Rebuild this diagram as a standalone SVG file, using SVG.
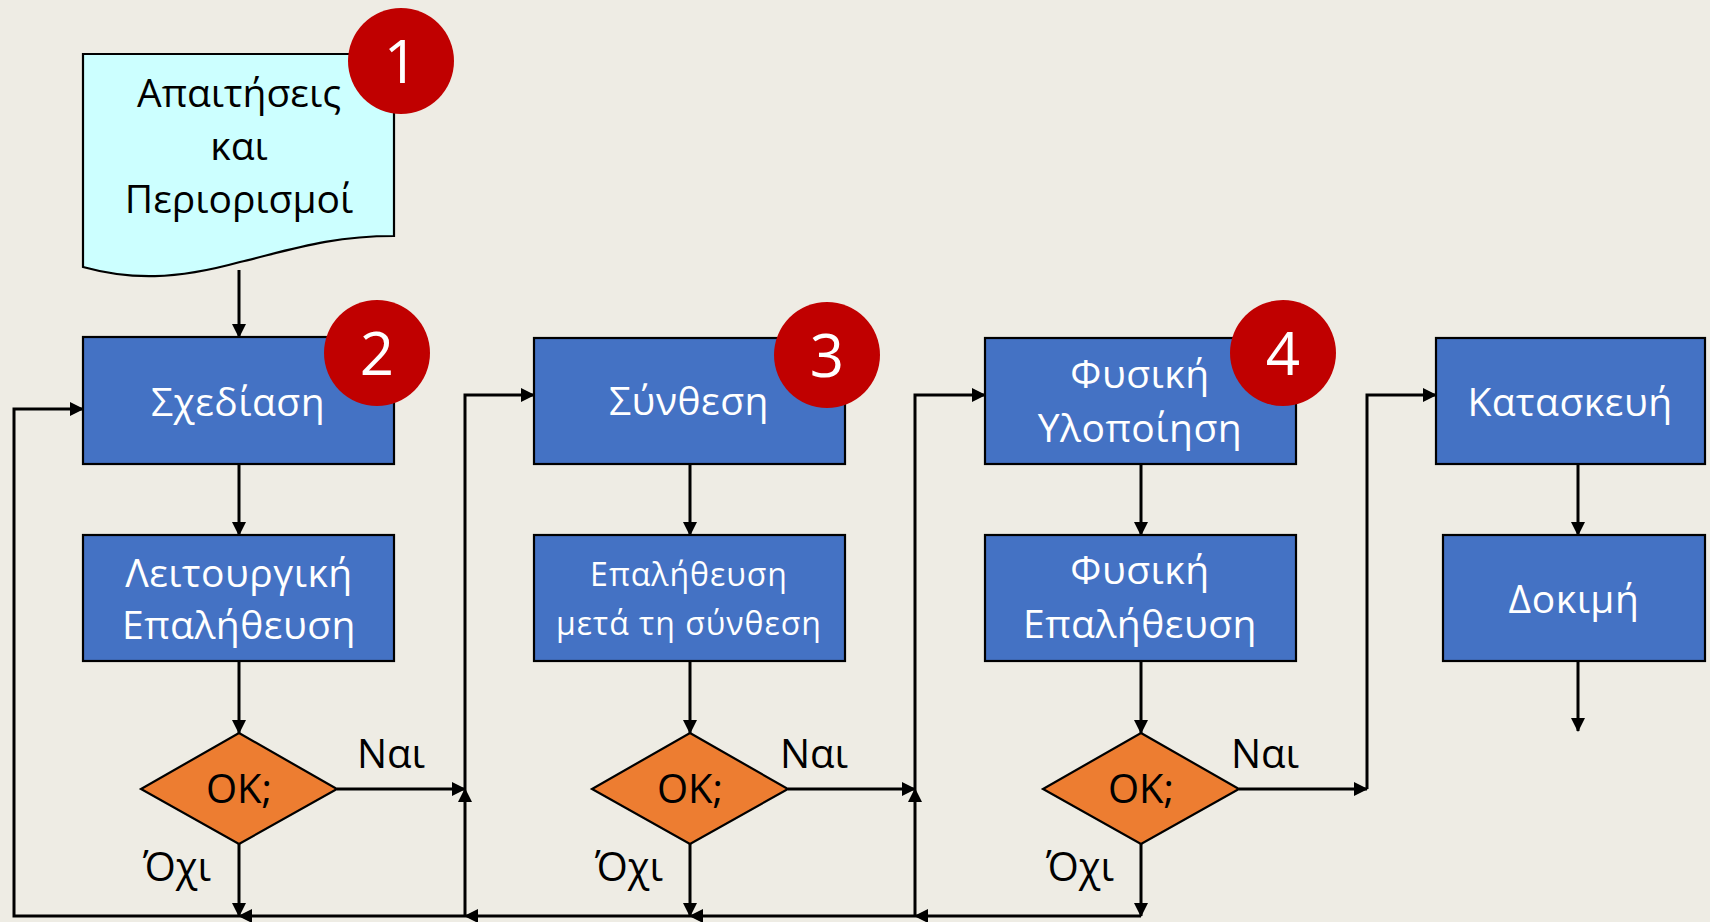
<svg xmlns="http://www.w3.org/2000/svg" width="1710" height="922" viewBox="0 0 1710 922">
<defs>
<style>
.box{fill:#4472C4;stroke:#000;stroke-width:2.2}
.dia{fill:#ED7D31;stroke:#000;stroke-width:2.2}
.doc{fill:#CCFFFF;stroke:#000;stroke-width:2.2}
.badge{fill:#C00000}
.bt{font-family:"Open Sans","Noto Sans",sans-serif;font-size:60px;fill:#fff;text-anchor:middle}
.wt{font-family:"Open Sans","Noto Sans",sans-serif;font-size:39px;letter-spacing:0.5px;fill:#fff;text-anchor:middle}
.st{font-family:"Open Sans","Noto Sans",sans-serif;font-size:32px;letter-spacing:1px;fill:#fff;text-anchor:middle}
.kt{font-family:"Open Sans","Noto Sans",sans-serif;font-size:39px;fill:#000}
.lt{font-family:"Open Sans","Noto Sans",sans-serif;font-size:40px;fill:#000}
.c{fill:none;stroke:#000;stroke-width:3;stroke-linejoin:miter;marker-end:url(#ah)}
</style>
<marker id="ah" markerUnits="userSpaceOnUse" viewBox="0 0 14 14" markerWidth="14" markerHeight="14" refX="13" refY="7" orient="auto">
<path d="M0,0 L14,7 L0,14 z" fill="#000"/>
</marker>
</defs>
<rect width="1710" height="922" fill="#EEECE4"/>

<g id="connectors">
<path class="c" d="M239,270 V337"/>
<path class="c" d="M239,464 V535"/>
<path class="c" d="M239,661 V733"/>
<path class="c" d="M337,789 H465"/>
<path class="c" d="M239,844 V916"/>
<path class="c" d="M690,464 V535"/>
<path class="c" d="M690,661 V733"/>
<path class="c" d="M788,789 H915"/>
<path class="c" d="M690,844 V916"/>
<path class="c" d="M1141,464 V535"/>
<path class="c" d="M1141,661 V733"/>
<path class="c" d="M1239,789 H1367"/>
<path class="c" d="M1141,844 V916"/>
<path class="c" d="M1578,464 V535"/>
<path class="c" d="M1578,661 V731"/>
<path class="c" d="M1367,789 V395 H1436"/>
<path class="c" d="M1141,916 H915"/>
<path class="c" d="M915,916 H690"/>
<path class="c" d="M690,916 H465"/>
<path class="c" d="M465,916 H239"/>
<path class="c" d="M239,916 H14 V409 H83"/>
<path class="c" d="M465,916 V789"/>
<path class="c" d="M465,789 V395 H534"/>
<path class="c" d="M915,916 V789"/>
<path class="c" d="M915,789 V395 H985"/>
</g>

<g id="n1">
<path class="doc" d="M83,54 H394 V236 C330,236 290,250 240,262 C175,280 130,280 83,267 Z"/>
<text class="kt" x="239" y="107" text-anchor="middle">Απαιτήσεις</text>
<text class="kt" x="239" y="160" text-anchor="middle">και</text>
<text class="kt" x="239" y="213" text-anchor="middle">Περιορισμοί</text>
</g>
<g id="b1"><circle class="badge" cx="401" cy="61" r="53"/><text class="bt" x="401" y="83">1</text></g>

<g id="n2">
<rect class="box" x="83" y="337" width="311" height="127"/>
<text class="wt" x="238" y="416">Σχεδίαση</text>
</g>
<g id="b2"><circle class="badge" cx="377" cy="353" r="53"/><text class="bt" x="377" y="375">2</text></g>

<g id="n3">
<rect class="box" x="83" y="535" width="311" height="126"/>
<text class="wt" x="239" y="587">Λειτουργική</text>
<text class="wt" x="239" y="639">Επαλήθευση</text>
</g>

<g id="d1">
<polygon class="dia" points="239,733 337,789 239,844 141,789"/>
<text class="lt" x="239" y="803" text-anchor="middle">OK;</text>
</g>

<g id="n4">
<rect class="box" x="534" y="338" width="311" height="126"/>
<text class="wt" x="689" y="415">Σύνθεση</text>
</g>
<g id="b3"><circle class="badge" cx="827" cy="355" r="53"/><text class="bt" x="827" y="377">3</text></g>

<g id="n5">
<rect class="box" x="534" y="535" width="311" height="126"/>
<text class="st" x="689" y="586">Επαλήθευση</text>
<text class="st" x="689" y="635">μετά τη σύνθεση</text>
</g>

<g id="d2">
<polygon class="dia" points="690,733 788,789 690,844 592,789"/>
<text class="lt" x="690" y="803" text-anchor="middle">OK;</text>
</g>

<g id="n6">
<rect class="box" x="985" y="338" width="311" height="126"/>
<text class="wt" x="1140" y="388">Φυσική</text>
<text class="wt" x="1140" y="442">Υλοποίηση</text>
</g>
<g id="b4"><circle class="badge" cx="1283" cy="353" r="53"/><text class="bt" x="1283" y="375">4</text></g>

<g id="n7">
<rect class="box" x="985" y="535" width="311" height="126"/>
<text class="wt" x="1140" y="584">Φυσική</text>
<text class="wt" x="1140" y="638">Επαλήθευση</text>
</g>

<g id="d3">
<polygon class="dia" points="1141,733 1239,789 1141,844 1043,789"/>
<text class="lt" x="1141" y="803" text-anchor="middle">OK;</text>
</g>

<g id="n8">
<rect class="box" x="1436" y="338" width="269" height="126"/>
<text class="wt" x="1570" y="416">Κατασκευή</text>
</g>

<g id="n9">
<rect class="box" x="1443" y="535" width="262" height="126"/>
<text class="wt" x="1574" y="613">Δοκιμή</text>
</g>

<g id="labels">
<text class="lt" x="357" y="768">Ναι</text>
<text class="lt" x="780" y="768">Ναι</text>
<text class="lt" x="1231" y="768">Ναι</text>
<text class="lt" x="143" y="881">Όχι</text>
<text class="lt" x="595" y="881">Όχι</text>
<text class="lt" x="1046" y="881">Όχι</text>
</g>
</svg>
